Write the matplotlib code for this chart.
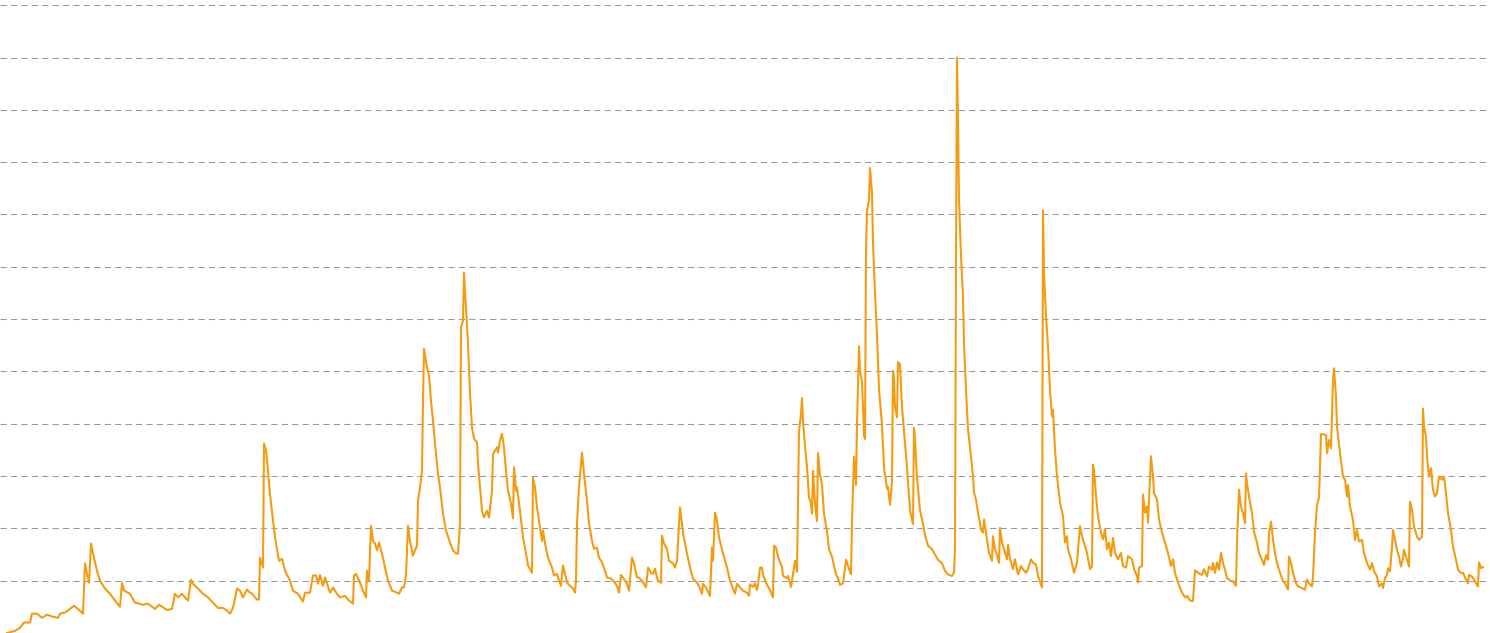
import matplotlib
matplotlib.use("Agg")
import matplotlib.pyplot as plt

# sample index (time) and level
week = [
    7, 15, 20, 24, 30, 32, 37, 42, 47, 53, 58, 60, 65, 70, 74, 78, 83, 85, 87, 89,
    91, 93, 97, 100, 105, 110, 115, 120, 122, 124, 130, 135, 143, 148, 155, 159, 167, 172, 175, 178,
    182, 185, 188, 191, 193, 198, 203, 208, 213, 218, 223, 227, 230, 233, 237, 240, 243, 247,
    250, 252, 257, 259, 260, 263, 264, 266, 268, 270, 273, 276, 279, 282, 285, 290, 293, 298, 303, 305,
    310, 313, 316, 318, 320, 323, 325, 330, 333, 337, 340, 345, 348, 353, 354, 356, 360, 363, 366, 367,
    369, 371, 373, 375, 377, 379, 382, 385, 388, 392, 397, 399, 402, 404, 406, 408, 410, 413, 415, 417,
    418, 420, 422, 423, 424, 427, 429, 431, 433, 435, 438, 440, 443, 446, 450, 453, 456, 458, 460, 461,
    463, 464, 466, 468, 470, 472, 474, 477, 478, 480, 482, 484, 487, 489, 492, 493, 497, 498, 500, 502,
    504, 506, 508, 511, 513, 514, 516, 517, 520,
    523, 526, 528, 532, 533, 535, 537, 540, 542, 543, 545, 548, 552, 554, 557, 558, 561, 563, 565, 567,
    570, 573, 575, 576, 577, 579, 582, 584, 587, 589, 592, 594, 597, 599, 602, 605, 607, 611, 613, 617,
    619, 621, 623, 627, 629, 632, 634, 637, 639, 642, 646, 648, 651, 653, 655, 657, 658, 661, 662, 664,
    667, 669, 673, 675, 677, 679, 680, 682, 683, 687, 690, 693, 697, 699, 702, 703, 706, 710, 712, 713,
    715, 717, 719, 723, 727, 730, 733, 735, 737, 740, 743, 747, 749,
    750, 753, 755, 757, 758, 760, 762, 763, 767, 770, 773, 774, 776, 778, 782, 783, 787, 788, 791, 793,
    795, 797, 799, 801, 802, 803, 805, 807, 809, 811, 812, 813, 815, 817, 818, 820, 822, 824, 827, 829,
    832, 834, 836, 838, 840, 843, 846, 848, 851, 852, 854, 856, 857, 859, 860, 862, 863, 864, 865, 866,
    867, 869, 870, 872, 873, 875, 877, 879, 882, 884, 887, 888, 890, 892, 893, 894, 895, 897, 898, 900,
    902, 904, 907, 910, 913, 914, 915, 917, 920, 923, 925, 928, 932, 935, 938, 942, 945, 948, 952, 954,
    955, 956, 957, 958, 959,
    961, 963, 964, 966, 968, 971, 973, 974, 976, 977, 979, 981, 983, 984, 986, 988, 989, 992, 993, 995,
    997, 999, 1000, 1002, 1004, 1007, 1008, 1010, 1013, 1015, 1018, 1021, 1023, 1026, 1028, 1031, 1033, 1036, 1038, 1042,
    1043, 1044, 1046, 1048, 1050, 1052, 1053, 1055, 1057, 1060, 1063, 1065, 1067, 1068, 1071, 1074, 1077, 1078, 1080, 1082,
    1085, 1087, 1090, 1092, 1093, 1094, 1096, 1098, 1101, 1103, 1105, 1107, 1109, 1111, 1113, 1115, 1118, 1121, 1123, 1126,
    1128, 1132, 1134, 1137, 1138, 1139, 1142, 1143, 1145, 1147, 1148, 1149, 1151, 1153, 1154, 1157, 1159, 1162, 1165, 1168,
    1171, 1173, 1175, 1178, 1182, 1185, 1187, 1190, 1193,
    1195, 1198, 1202, 1204, 1207, 1209, 1212, 1213, 1215, 1217, 1219, 1221, 1223, 1225, 1227, 1231, 1233, 1236, 1237, 1239,
    1241, 1243, 1245, 1246, 1247, 1249, 1252, 1254, 1257, 1259, 1262, 1264, 1266, 1268, 1269, 1271, 1273, 1275, 1277, 1280,
    1283, 1285, 1288, 1289, 1291, 1293, 1296, 1298, 1302, 1305, 1307, 1309, 1312, 1313, 1315, 1317, 1319, 1321, 1323, 1326,
    1327, 1329, 1331, 1333, 1334, 1336, 1337, 1340, 1343, 1345, 1347, 1348, 1350, 1353, 1355, 1357, 1359, 1362, 1364, 1367,
    1370, 1372, 1374, 1377, 1379, 1382, 1383, 1385, 1387, 1388, 1390, 1392, 1393, 1395, 1397, 1399, 1401, 1403, 1404, 1407,
    1409, 1410, 1412, 1414, 1417, 1419, 1422, 1423, 1424, 1426, 1427, 1429, 1431, 1433, 1435, 1437, 1439, 1442, 1444, 1446,
    1448, 1451, 1453, 1456, 1458, 1461, 1463, 1466, 1468, 1469, 1472, 1474, 1477, 1478, 1479, 1481, 1483,
]

level = [
    0.0, 0.04, 0.1, 0.2, 0.2, 0.37, 0.37, 0.29, 0.35, 0.31, 0.29, 0.37, 0.39, 0.46, 0.52, 0.46, 0.37, 1.33, 1.13, 0.96,
    1.71, 1.52, 1.19, 1.0, 0.85, 0.75, 0.62, 0.5, 0.96, 0.81, 0.75, 0.58, 0.54, 0.56, 0.46, 0.54, 0.44, 0.46, 0.75, 0.68,
    0.75, 0.68, 0.62, 1.02, 0.94, 0.85, 0.75, 0.68, 0.58, 0.48, 0.48, 0.43, 0.37, 0.48, 0.85, 0.81, 0.68, 0.83,
    0.77, 0.75, 0.64, 0.64, 1.44, 1.25, 3.62, 3.49, 3.1, 2.66, 2.15, 1.71, 1.38, 1.42, 1.19, 1.0, 0.81, 0.75, 0.6, 0.77,
    0.77, 1.1, 1.1, 0.94, 1.11, 0.9, 1.06, 0.77, 0.87, 0.75, 0.68, 0.71, 0.64, 0.56, 1.1, 1.13, 0.96, 0.81, 0.68, 1.19,
    1.0, 2.05, 1.76, 1.71, 1.58, 1.73, 1.52, 1.25, 1.0, 0.81, 0.77, 0.75, 0.87, 0.87, 1.1, 2.05, 1.76, 1.48, 1.58, 1.67,
    2.53, 2.78, 3.1, 4.44, 5.43, 5.07, 4.92, 4.44, 4.06, 3.62, 3.04, 2.78, 2.28, 1.96, 1.73, 1.58, 1.52, 1.52, 2.09, 5.84,
    5.97, 6.89, 6.22, 5.53, 4.58, 3.93, 3.72, 3.64, 3.24, 2.78, 2.34, 2.21, 2.34, 2.21, 2.72, 3.42, 3.55, 3.45, 3.68, 3.81,
    3.55, 3.1, 2.72, 2.47, 2.19, 3.17, 2.72, 2.78, 2.34,
    1.83, 1.52, 1.29, 1.15, 2.97, 2.78, 2.4, 2.01, 1.76, 1.96, 1.71, 1.44, 1.25, 1.1, 1.13, 1.06, 0.9, 1.29, 1.13, 0.96,
    0.9, 0.85, 0.77, 1.0, 2.09, 2.78, 3.45, 3.04, 2.53, 2.09, 1.76, 1.61, 1.63, 1.44, 1.35, 1.19, 1.06, 1.04, 1.0, 0.9,
    0.77, 1.11, 1.06, 0.94, 0.81, 1.44, 1.33, 1.06, 1.06, 1.0, 0.87, 1.25, 1.15, 1.13, 1.23, 1.06, 1.0, 0.96, 1.86, 1.71,
    1.61, 1.38, 1.33, 1.25, 1.38, 2.09, 2.4, 2.09, 1.9, 1.52, 1.25, 1.04, 0.96, 0.9, 0.75, 0.94, 0.87, 0.71, 1.63, 1.38,
    2.3, 2.15, 1.83, 1.52, 1.25, 1.0, 0.85, 0.75, 0.94, 0.87, 0.81, 0.77, 0.71,
    0.93, 0.88, 0.95, 0.82, 0.92, 1.25, 1.25, 1.12, 0.92, 0.82, 0.68, 1.67, 1.63, 1.46, 1.26, 1.09, 1.05, 1.09, 0.88, 1.12,
    1.38, 1.17, 3.85, 4.19, 4.49, 4.05, 3.57, 3.17, 2.59, 2.48, 2.28, 3.1, 2.48, 2.14, 3.44, 3.03, 2.83, 2.28, 1.94, 1.6,
    1.46, 1.29, 1.12, 1.05, 0.92, 0.95, 1.4, 1.29, 1.12, 2.14, 3.37, 2.83, 3.98, 5.48, 5.01, 4.8, 4.32, 3.78, 3.71, 7.32,
    8.07, 8.28, 8.89, 8.41, 7.46, 6.5, 5.69, 4.66, 3.98, 3.17, 2.76, 2.79, 2.45, 2.89, 5.01, 4.87, 4.32, 4.12, 5.18, 5.14,
    4.32, 3.85, 3.17, 2.35, 2.08, 3.92, 3.71, 2.96, 2.35, 2.08, 1.87, 1.67, 1.6, 1.5, 1.4, 1.33, 1.19, 1.12, 1.09, 1.16,
    1.6, 7.05, 11.0, 9.77, 8.3,
    7.2, 6.43, 5.54, 4.65, 3.89, 3.38, 3.0, 2.68, 2.55, 2.42, 2.2, 1.98, 1.92, 2.17, 1.92, 1.66, 1.53, 1.38, 1.85, 1.6,
    1.5, 1.34, 2.01, 1.73, 1.6, 1.41, 1.69, 1.41, 1.22, 1.41, 1.12, 1.28, 1.22, 1.15, 1.22, 1.41, 1.34, 1.31, 1.09, 0.87,
    8.08, 6.87, 6.05, 5.48, 4.65, 4.14, 4.27, 3.51, 3.0, 2.49, 2.23, 1.73, 1.85, 1.6, 1.41, 1.15, 1.34, 1.6, 2.04, 1.85,
    1.66, 1.53, 1.22, 1.28, 3.22, 3.12, 2.62, 2.23, 1.92, 1.79, 1.98, 1.6, 1.73, 1.47, 1.82, 1.53, 1.41, 1.53, 1.28, 1.25,
    1.47, 1.41, 1.22, 1.09, 0.97, 1.25, 1.28, 2.65, 2.3, 2.42, 2.11, 2.55, 3.38, 3.0, 2.68, 2.55, 2.17, 1.92, 1.73, 1.53,
    1.28, 1.41, 1.15, 0.96, 0.77, 0.68, 0.71, 0.62, 0.61,
    1.2, 1.15, 1.11, 1.22, 1.08, 1.27, 1.21, 1.34, 1.15, 1.35, 1.21, 1.53, 1.34, 1.21, 1.05, 0.99, 0.99, 0.9, 1.75, 2.74,
    2.42, 2.29, 2.1, 3.05, 2.86, 2.61, 2.29, 1.94, 1.72, 1.53, 1.4, 1.3, 1.49, 1.4, 1.91, 2.13, 1.78, 1.53, 1.34, 1.15,
    0.99, 0.95, 0.83, 1.46, 1.34, 1.15, 0.95, 0.89, 0.86, 0.83, 1.02, 0.95, 0.89, 1.08, 1.91, 2.45, 2.58, 3.8, 3.8, 3.78,
    3.44, 3.69, 3.53, 4.83, 5.06, 4.52, 3.94, 3.44, 2.99, 2.93, 2.61, 2.83, 2.42, 2.16, 1.78, 1.97, 1.75, 1.78, 1.53, 1.34,
    1.21, 1.34, 1.18, 1.08, 0.89, 0.95, 0.86, 1.05, 1.11, 1.24, 1.18, 1.65, 1.97, 1.78, 1.59, 1.46, 1.27, 1.43, 1.59, 1.4,
    1.27, 2.51, 2.35, 2.04, 1.84, 1.78, 1.84, 4.29, 3.94, 3.75, 3.37, 2.99, 3.15, 2.74, 2.61, 2.67, 2.99, 2.93, 2.99, 2.67,
    2.29, 1.97, 1.65, 1.4, 1.21, 1.15, 1.15, 1.02, 0.95, 1.11, 1.08, 1.02, 0.92, 0.89, 1.35, 1.24, 1.26,
]

grid_levels = list(range(1, 13))

fig = plt.figure(figsize=(14.9, 6.33), dpi=100)
ax = fig.add_axes([0, 0, 1, 1])

ax.plot(week, level, color="#f39c12", linewidth=1.5, zorder=3)

ax.set_xlim(0, 1490)
ax.set_ylim(0, 12.1)
ax.set_yticks(grid_levels)
ax.set_xticks([])
ax.tick_params(left=False, labelleft=False)
ax.yaxis.grid(True, color="#999999", linewidth=0.75, linestyle=(0, (6, 4)))
ax.set_axisbelow(True)
for s in ax.spines.values():
    s.set_visible(False)

fig.savefig("out.png", dpi=100, facecolor="white")
